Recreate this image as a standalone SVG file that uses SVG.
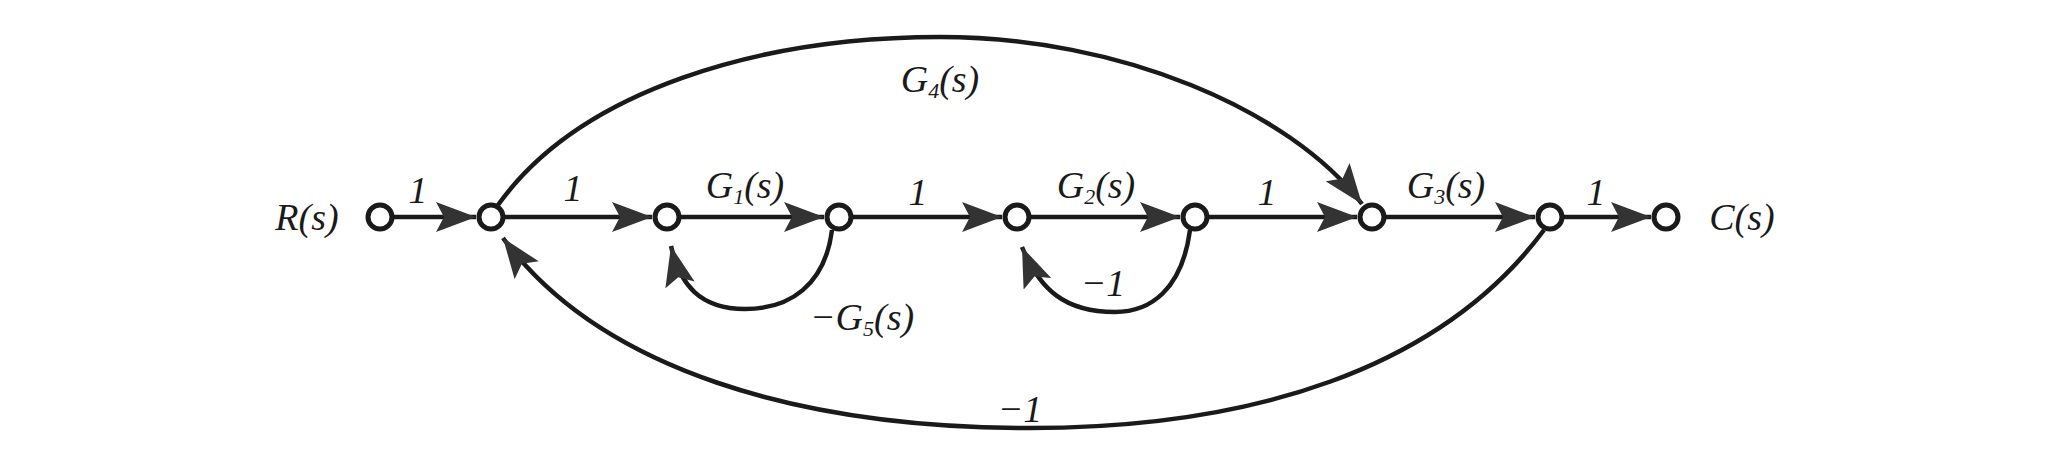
<svg xmlns="http://www.w3.org/2000/svg" width="2063" height="472" viewBox="0 0 2063 472">
<style>
.e{fill:none;stroke:#1a1a1a;stroke-width:4.5}
.n{fill:#fff;stroke:#1a1a1a;stroke-width:5}
text{font-family:"Liberation Serif",serif;font-style:italic;font-size:38px;fill:#1a1a1a;text-anchor:middle}
</style>
<defs>
<marker id="b" markerWidth="40" markerHeight="30" refX="40" refY="15" orient="auto" markerUnits="userSpaceOnUse" viewBox="0 0 40 30"><path d="M0,0 L40,15 L0,30 L8,15 Z" fill="#333"/></marker>
</defs>
<g id="connectors">
<path class="e" d="M394,217 H476" marker-end="url(#b)"/>
<path class="e" d="M505,217 H652" marker-end="url(#b)"/>
<path class="e" d="M681,217 H824" marker-end="url(#b)"/>
<path class="e" d="M853,217 H1002" marker-end="url(#b)"/>
<path class="e" d="M1031,217 H1180" marker-end="url(#b)"/>
<path class="e" d="M1209,217 H1357" marker-end="url(#b)"/>
<path class="e" d="M1386,217 H1535" marker-end="url(#b)"/>
<path class="e" d="M1564,217 H1651" marker-end="url(#b)"/>
<path class="e" d="M498,205 C580,90 760,37 940,37 C1120,37 1290,110 1362,204" marker-end="url(#b)"/>
<path class="e" d="M1544,230 C1440,370 1250,428 1030,428 C800,428 600,370 503,238" marker-end="url(#b)"/>
<path class="e" d="M832,230 C825,285 790,309 745,309 C700,309 680,285 671,246" marker-end="url(#b)"/>
<path class="e" d="M1190,230 C1182,290 1150,312 1115,312 C1065,312 1040,290 1022,247" marker-end="url(#b)"/>
</g>
<g id="n1"><circle class="n" cx="380" cy="217" r="12"/></g>
<g id="n2"><circle class="n" cx="491" cy="217" r="12"/></g>
<g id="n3"><circle class="n" cx="667" cy="217" r="12"/></g>
<g id="n4"><circle class="n" cx="839" cy="217" r="12"/></g>
<g id="n5"><circle class="n" cx="1017" cy="217" r="12"/></g>
<g id="n6"><circle class="n" cx="1195" cy="217" r="12"/></g>
<g id="n7"><circle class="n" cx="1372" cy="217" r="12"/></g>
<g id="n8"><circle class="n" cx="1550" cy="217" r="12"/></g>
<g id="n9"><circle class="n" cx="1666" cy="217" r="12"/></g>
<g id="labels">
<text x="307" y="230">R(s)</text>
<text x="1742" y="230">C(s)</text>
<text x="418" y="203">1</text>
<text x="573" y="201">1</text>
<text x="745" y="198">G<tspan font-size="22" dy="6">1</tspan><tspan dy="-6">(s)</tspan></text>
<text x="918" y="205">1</text>
<text x="1096" y="198">G<tspan font-size="22" dy="6">2</tspan><tspan dy="-6">(s)</tspan></text>
<text x="1267" y="205">1</text>
<text x="1446" y="198">G<tspan font-size="22" dy="6">3</tspan><tspan dy="-6">(s)</tspan></text>
<text x="1596" y="205">1</text>
<text x="940" y="92">G<tspan font-size="22" dy="6">4</tspan><tspan dy="-6">(s)</tspan></text>
<text x="862" y="330">−G<tspan font-size="22" dy="6">5</tspan><tspan dy="-6">(s)</tspan></text>
<text x="1103" y="296">−1</text>
<text x="1020" y="422">−1</text>
</g>
</svg>
